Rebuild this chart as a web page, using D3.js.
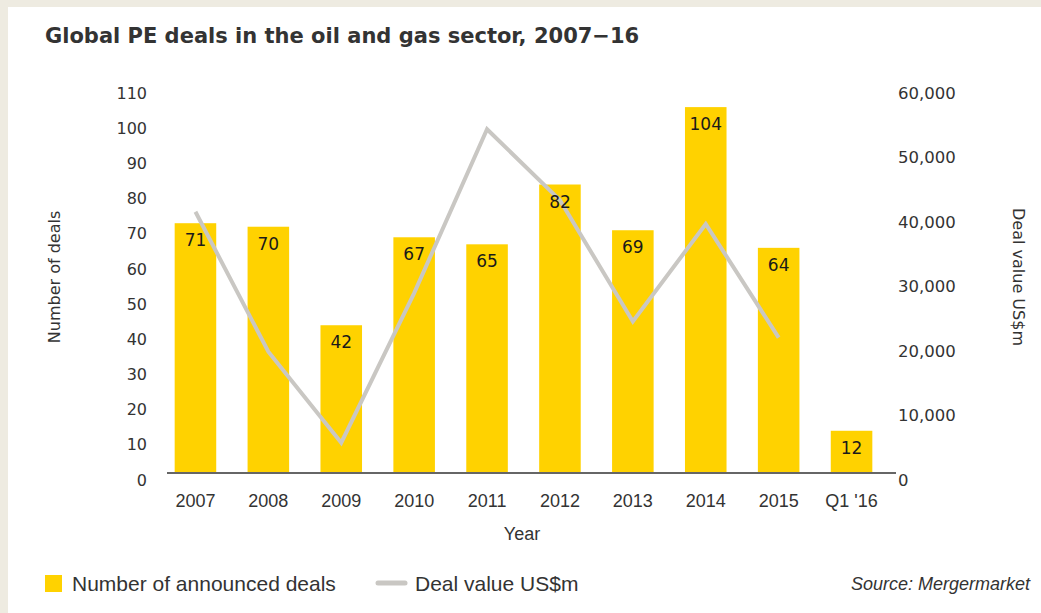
<!DOCTYPE html>
<html>
<head>
<meta charset="utf-8">
<script src="https://cdn.jsdelivr.net/npm/d3@7"></script>
<style>
	body { margin: 0; background: #eeebe1; }
	svg { display: block; }
</style>
</head>
<body>
<div id="chart"></div>
<script>

// chart data
var years = ["2007", "2008", "2009", "2010", "2011", "2012", "2013", "2014", "2015", "Q1 '16"];
var deals = [71, 70, 42, 67, 65, 82, 69, 104, 64, 12];			// number of announced deals
var dealValue = [40500, 18800, 4700, 27900, 53300, 42300, 23500, 38600, 21000, null];	// US$m
var leftTicks = [0, 10, 20, 30, 40, 50, 60, 70, 80, 90, 100, 110];
var rightTicks = [0, 10000, 20000, 30000, 40000, 50000, 60000];

var W = 1041, H = 613;
var top0 = 86, base = 473;

var svg = d3.select("#chart").append("svg")
	.attr("width", W)
	.attr("height", H);

// white panel
svg.append("rect")
	.attr("x", 8).attr("y", 7)
	.attr("width", W - 8).attr("height", H - 7)
	.attr("fill", "#fff");

// title
svg.append("text")
	.attr("x", 45).attr("y", 43)
	.attr("font-family", "DejaVu Sans, Verdana, sans-serif")
	.attr("font-weight", 700)
	.attr("font-size", 21)
	.attr("fill", "#333")
	.text("Global PE deals in the oil and gas sector, 2007\u221216");

var x = d3.scaleBand()
	.domain(years)
	.range([159, 888])
	.paddingInner(0.43)
	.paddingOuter(0.215);

var yL = d3.scaleLinear().domain([0, 110]).range([base, top0]);
var yR = d3.scaleLinear().domain([0, 60000]).range([base, top0]);

var tickFont = "DejaVu Sans, Verdana, sans-serif";

// left axis
var ax = svg.append("g")
	.attr("transform", "translate(147,7)")
	.call(d3.axisLeft(yL).tickValues(leftTicks).tickSize(0).tickPadding(0));
ax.select(".domain").remove();
ax.selectAll("text")
	.attr("font-family", tickFont)
	.attr("font-size", 16)
	.attr("fill", "#333");

// right axis
var axr = svg.append("g")
	.attr("transform", "translate(898,7)")
	.call(d3.axisRight(yR).tickValues(rightTicks).tickSize(0).tickPadding(0)
		.tickFormat(d3.format(",")));
axr.select(".domain").remove();
axr.selectAll("text")
	.attr("font-family", tickFont)
	.attr("font-size", 16.5)
	.attr("fill", "#333");

// bars
svg.selectAll("rect.bar")
	.data(deals)
	.join("rect")
	.attr("class", "bar")
	.attr("x", (d, i) => x(years[i]))
	.attr("y", d => yL(d))
	.attr("width", x.bandwidth())
	.attr("height", d => base - yL(d))
	.attr("fill", "#ffd200");

// line
var line = d3.line()
	.defined(d => d.v != null)
	.x(d => x(d.year) + x.bandwidth() / 2)
	.y(d => yR(d.v));

svg.append("path")
	.datum(years.map((y, i) => ({ year: y, v: dealValue[i] })))
	.attr("d", line)
	.attr("fill", "none")
	.attr("stroke", "#c9c7c3")
	.attr("stroke-width", 4)
	.attr("stroke-linejoin", "miter");

// bar labels
svg.selectAll("text.blab")
	.data(deals)
	.join("text")
	.attr("class", "blab")
	.attr("x", (d, i) => x(years[i]) + x.bandwidth() / 2)
	.attr("y", d => yL(d) + 23)
	.attr("text-anchor", "middle")
	.attr("font-family", tickFont)
	.attr("font-size", 17)
	.attr("fill", "#1a1a1a")
	.text(d => d);

// baseline
svg.append("line")
	.attr("x1", 167).attr("x2", 896)
	.attr("y1", base).attr("y2", base)
	.attr("stroke", "#666")
	.attr("stroke-width", 2);

// x axis labels
var labFont = "Liberation Sans, Arial, sans-serif";
var xa = svg.append("g")
	.attr("transform", `translate(0,${base})`)
	.call(d3.axisBottom(x).tickSize(0).tickPadding(0));
xa.select(".domain").remove();
xa.selectAll("text")
	.attr("dy", null)
	.attr("y", 34)
	.attr("font-family", labFont)
	.attr("font-size", 18)
	.attr("fill", "#333");

svg.append("text")
	.attr("x", 522).attr("y", 540)
	.attr("text-anchor", "middle")
	.attr("font-family", labFont)
	.attr("font-size", 18)
	.attr("fill", "#333")
	.text("Year");

// axis titles
svg.append("text")
	.attr("transform", "translate(60,277) rotate(-90)")
	.attr("text-anchor", "middle")
	.attr("font-family", tickFont)
	.attr("font-size", 16)
	.attr("fill", "#333")
	.text("Number of deals");

svg.append("text")
	.attr("transform", "translate(1013,277) rotate(90)")
	.attr("text-anchor", "middle")
	.attr("font-family", tickFont)
	.attr("font-size", 16)
	.attr("fill", "#333")
	.text("Deal value US$m");

// legend
svg.append("rect")
	.attr("x", 45).attr("y", 575)
	.attr("width", 17).attr("height", 17)
	.attr("fill", "#ffd200");
svg.append("text")
	.attr("x", 72).attr("y", 591)
	.attr("font-family", labFont)
	.attr("font-size", 21)
	.attr("fill", "#333")
	.text("Number of announced deals");
svg.append("line")
	.attr("x1", 378).attr("x2", 405)
	.attr("y1", 583).attr("y2", 583)
	.attr("stroke", "#c9c7c3")
	.attr("stroke-width", 5)
	.attr("stroke-linecap", "round");
svg.append("text")
	.attr("x", 415).attr("y", 591)
	.attr("font-family", labFont)
	.attr("font-size", 21)
	.attr("fill", "#333")
	.text("Deal value US$m");

svg.append("text")
	.attr("x", 1030).attr("y", 590)
	.attr("text-anchor", "end")
	.attr("font-family", labFont)
	.attr("font-style", "italic")
	.attr("font-size", 18)
	.attr("fill", "#333")
	.text("Source: Mergermarket");

</script>
</body>
</html>
